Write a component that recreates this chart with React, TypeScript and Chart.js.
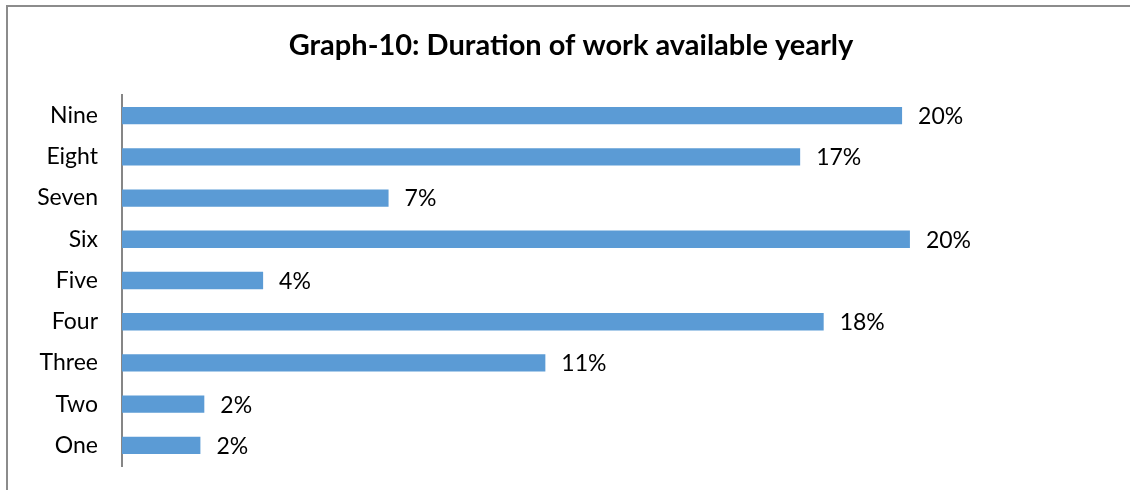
import React, { useEffect, useRef } from "react";
import { Chart, registerables } from "chart.js";

Chart.register(...registerables);

const categories = ["Nine", "Eight", "Seven", "Six", "Five", "Four", "Three", "Two", "One"];
const values = [19.9, 17.3, 6.8, 20.1, 3.6, 17.9, 10.8, 2.1, 2.0];
const valueLabels = ["20%", "17%", "7%", "20%", "4%", "18%", "11%", "2%", "2%"];
const titleText = "Graph-10: Duration of work available yearly";

const FONT = "Lato, 'Open Sans', 'Liberation Sans', sans-serif";

const dataLabelPlugin = {
  id: "dataLabels",
  afterDatasetsDraw(chart: any) {
    const ctx = chart.ctx;
    const meta = chart.getDatasetMeta(0);
    ctx.save();
    ctx.font = `23px ${FONT}`;
    ctx.fillStyle = "#000000";
    ctx.textAlign = "left";
    ctx.textBaseline = "middle";
    meta.data.forEach((bar: any, i: number) => {
      ctx.fillText(valueLabels[i], bar.x + 16, bar.y + 1);
    });
    // title
    ctx.font = `bold 29px ${FONT}`;
    ctx.textAlign = "center";
    ctx.fillText(titleText, 571, 46);
    ctx.restore();
  },
};

export default function App() {
  const canvasRef = useRef<HTMLCanvasElement | null>(null);

  useEffect(() => {
    document.body.style.margin = "0";
    const canvas = canvasRef.current;
    if (!canvas) return;
    const chart = new Chart(canvas, {
      type: "bar",
      data: {
        labels: categories,
        datasets: [
          {
            data: values,
            backgroundColor: "#5B9BD5",
            borderWidth: 0,
            categoryPercentage: 1,
            barPercentage: 0.42,
          },
        ],
      },
      options: {
        indexAxis: "y",
        animation: false,
        responsive: false,
        maintainAspectRatio: false,
        layout: { padding: { left: 0, right: 28, top: 95, bottom: 24 } },
        plugins: {
          legend: { display: false },
          tooltip: { enabled: false },
          title: { display: false },
        },
        scales: {
          x: {
            display: false,
            min: 0,
            max: 25,
          },
          y: {
            grid: { display: false, drawTicks: true, tickLength: 24, tickColor: "rgba(0,0,0,0)" },
            border: { display: true, color: "#868686", width: 2 },
            ticks: {
              color: "#000000",
              font: { family: FONT, size: 23 },
              padding: 0,
            },
            afterFit(scale: any) {
              scale.width = 122;
            },
          },
        },
      },
      plugins: [dataLabelPlugin],
    });
    return () => chart.destroy();
  }, []);

  return (
    <div style={{ position: "relative", width: 1130, height: 490, overflow: "hidden", background: "#fff" }}>
      <div
        style={{
          position: "absolute",
          left: 6,
          top: 5,
          width: 1200,
          height: 600,
          border: "2px solid #8c8c8c",
          boxSizing: "border-box",
        }}
      />
      <canvas ref={canvasRef} width={1130} height={490} style={{ position: "absolute", left: 0, top: 0 }} />
    </div>
  );
}
